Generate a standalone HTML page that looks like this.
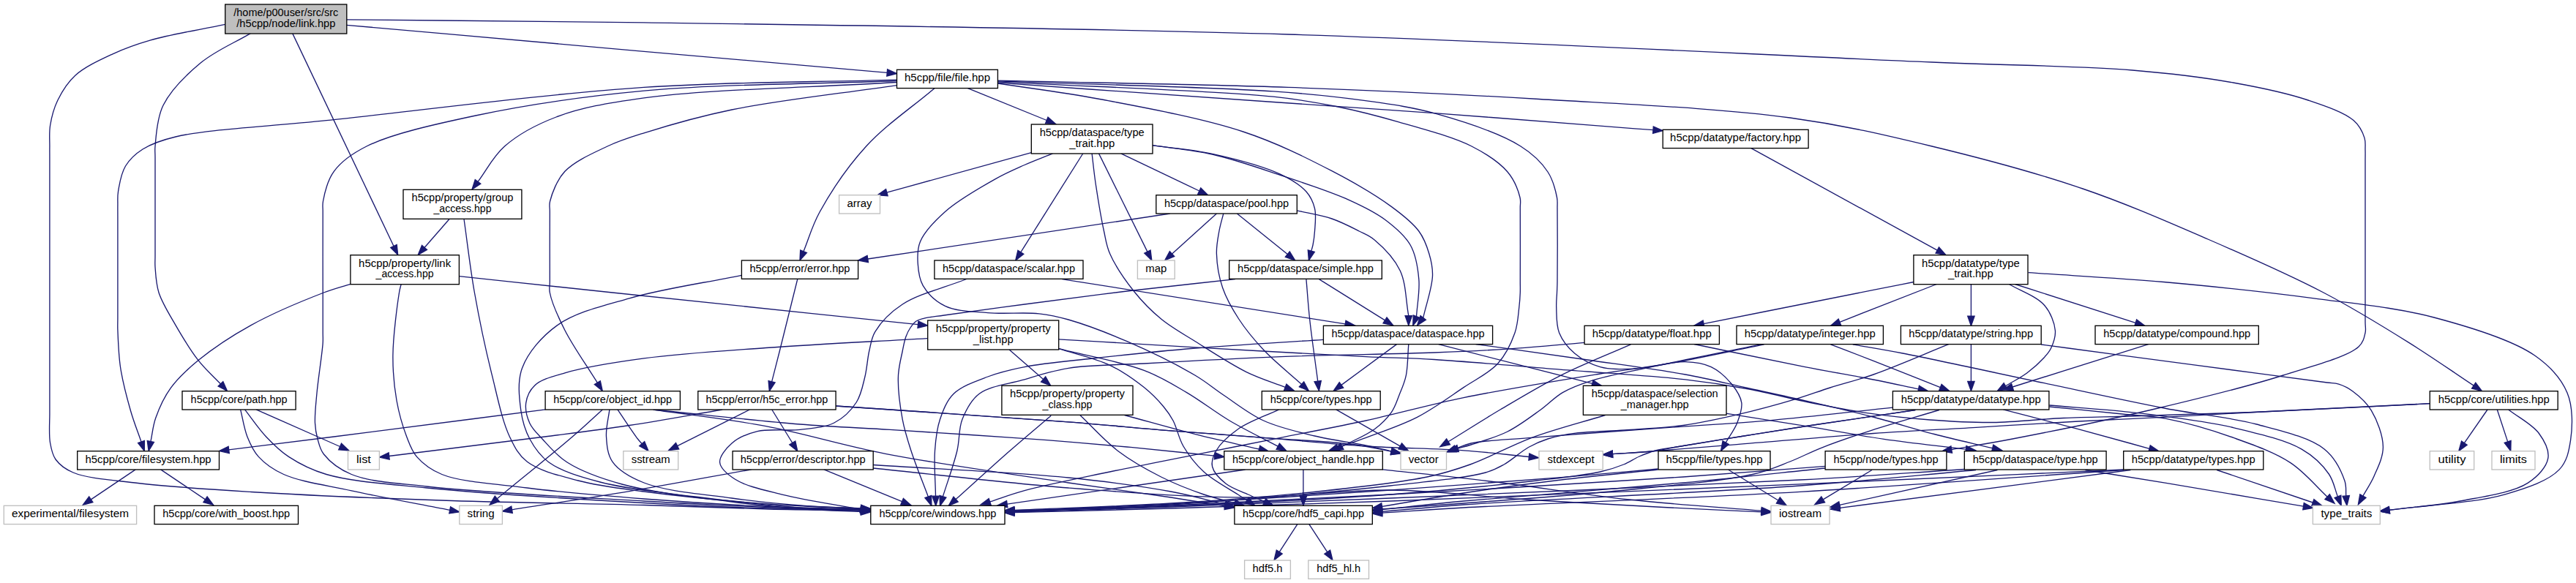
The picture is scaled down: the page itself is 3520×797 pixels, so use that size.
<!DOCTYPE html>
<html><head><meta charset="utf-8"><title>link.hpp include graph</title>
<style>html,body{margin:0;padding:0;background:#fff}svg{display:block}text{font-family:"Liberation Sans",sans-serif;font-size:14px;fill:#000;text-anchor:middle}</style></head><body>
<svg width="3520" height="797" viewBox="0 0 3520 797">
<rect width="3520" height="797" fill="#fff"/>
<g fill="none" stroke="#191970" stroke-width="1.33">
<path d="M307.7,33.3C273.7,40.5 233.8,46.9 205.8,54.9C185.4,60.8 170.9,66 154,73.8C136.6,81.9 116,91.2 103,103C92.1,112.9 84.7,125.1 78.9,137C73.5,148 70.4,160.4 68.6,171.5C67,181.3 68,192 67.9,200C67.8,205.8 67.9,207.2 67.9,215C67.9,242.3 67.9,341.6 67.9,400C67.9,452.6 67.9,526 67.9,550C67.9,557.6 67.9,558.8 67.9,565C68,575.1 66.6,593.6 68.5,605C70,613.8 71.3,621.4 76,628C81.3,635.3 88.7,641.2 100,646C119.6,654.4 155,656.4 188.7,660.5C233,665.8 284.2,668.9 343,672.5C421.4,677.3 527,681.5 617.5,684.5C706,687.4 802,688.3 880,690.5C942.8,692.2 997.5,694.8 1050,696C1095.3,697.1 1134.3,697.2 1176.5,697.8"/>
<path d="M342.4,45.6C319.7,59 294.4,69.3 274.4,85.8C254.6,102.2 233.2,123.3 223,144C214.2,161.7 213.2,187.2 212,200C211.4,206.5 212,207.5 212,215C212,237.5 212,327.5 212,350C212,357.5 211.6,359 212,365C212.7,374.3 213.2,388 217,400C221.6,414.3 231.4,429.7 240,444.6C249.2,460.5 260,478.6 271,492.6C280.6,504.9 291.2,514.1 301.4,524.8"/>
<path d="M399.7,45.6L538,336.5"/>
<path d="M473.8,34.3C609.2,46.3 751.4,59 880,70.3C996.3,80.5 1101.5,89.7 1212.2,99.3"/>
<path d="M1225.5,109.1C1110.3,112.5 1001.6,111.3 880,119.4C743.4,128.6 564,152.2 446,164.7C364.7,173.3 283.3,176.6 240,187C219.1,192 207,196.4 195,204C185.1,210.3 177.1,217.7 171.5,227C165.7,236.8 163,252.2 161.5,262C160.4,268.9 161,274.3 160.9,280C160.8,285.2 160.9,287.5 160.9,295C160.9,318 160.9,411.1 160.9,435C160.9,443.2 160.6,444.5 160.9,451.5C161.4,463.9 162,485.4 164.7,503C167.6,521.9 173.3,543.4 178.4,561.2C182.8,576.7 188.1,589.7 193,604"/>
<path d="M1225.5,110.5C1110.3,115.1 983.3,114.6 880,124.2C795.3,132.1 718,143.5 650,158C594.5,169.8 535,182.9 500.9,200C480.4,210.3 466.2,220.7 456.3,234.3C447.6,246.2 443.4,264.6 441.5,275C440.4,281.1 441.3,282.7 441.2,290C441,309.8 441.2,369.6 441.2,400C441.2,421.5 441.2,442.8 441.2,455C441.2,461.1 441.6,462.3 441.2,468.6C440.4,482.7 434.8,517.2 433,537.2C431.6,552.7 429.9,566.9 430.5,578.4C430.9,586.8 432,593 434,600C436,607.2 437.2,614.3 442.5,621C450.1,630.7 463.5,641.5 480.3,648.5C505.3,658.9 539.9,660.1 583.2,665C656.4,673.3 794.7,680 880,685C944.5,688.8 997.5,691.5 1050,693.5C1095.3,695.2 1134.3,695.6 1176.5,696.7"/>
<path d="M1225.5,112.5C1110.3,119.6 965.1,122 880,133.8C829.3,140.9 793.9,147 760,160C732.5,170.5 707.9,183.8 689.5,200C673.6,214 665.2,232.2 653,248.4"/>
<path d="M1225.5,116.6C1150.3,127.7 1063.1,137 1000,150C953.4,159.6 911.2,172 880,181.8C859.6,188.2 846.9,192 830,200C811,209 785.2,220.1 771.9,234.3C761,246 754.2,264.5 751.6,275C750.1,281 751.4,282.8 751.3,290C751.1,308 751.3,367 751.3,385C751.3,392.2 750.1,393.7 751.3,400C753.6,412.2 762.7,433.3 771.9,451.5C783.2,473.9 801.5,499.3 816.3,523.2"/>
<path d="M614,299.5L580,338.5"/>
<path d="M634,299.5C638.8,333 642.3,365.6 648.4,400C654.9,436.7 663.7,478.4 672.4,513.2C679.9,543.4 686.3,575.8 696.4,597C703.4,611.7 708.4,622 720.4,631.3C736.4,643.7 765,650.4 790,657C817.8,664.4 845.2,667.4 880,672C927.6,678.3 997.5,685.1 1050,689C1095.2,692.4 1134.3,693.2 1176.5,695.3"/>
<path d="M627.4,377.7C697.3,385.1 755.2,391.4 837,400C952.4,412.2 1115.3,429.1 1254.4,443.6"/>
<path d="M478.9,388.3C466.8,392.2 457.4,394.3 442.5,400C417.3,409.7 372.9,428.1 343,444.6C316.4,459.3 290.5,476.6 271,492.6C255.7,505.2 243.2,516.7 233.3,530.4C224.1,543.1 217.3,558.4 212.7,571.5C208.8,582.6 208.2,592.9 205.9,603.6"/>
<path d="M548.2,388.3C547.3,392.2 546.4,394.3 545.5,400C543,415.4 537.1,459.5 536.9,485.8C536.7,508 538.6,528.2 542,547.5C545.1,565.1 550.4,583.1 555.7,597C559.8,607.7 562.5,616.3 569.5,624.4C577.7,633.9 588,642.1 603.8,648.5C630.3,659.3 678.4,661.7 720.4,667C769.3,673.2 825.9,677.8 880,682C935.7,686.3 997.5,690.1 1050,692.5C1095.3,694.5 1134.3,694.9 1176.5,696.1"/>
<path d="M328.6,559.9C331.7,572.3 333.5,585.8 337.9,597C341.9,607.1 345.9,616.3 353.3,624.4C361.8,633.8 372.6,641.7 387.7,648.5C410.4,658.7 446.5,663.4 480.3,670.8C520.9,679.7 569.9,688.5 614.7,697.3"/>
<path d="M334.5,559.9C344.2,572.3 353.2,586 363.6,597C373.3,607.3 382.2,616.3 394.5,624.4C408.9,633.9 424.1,642.1 446,648.5C480.2,658.5 528.6,661.4 583.2,667C663.2,675.1 794.7,682.7 880,687.5C944.5,691.1 997.5,693.4 1050,695C1095.3,696.4 1134.3,696.5 1176.5,697.3"/>
<path d="M350,559.9C378,572.3 412.9,587.7 434,597C446.7,602.6 454.4,606 464.6,610.5"/>
<path d="M745.1,559.9C648.8,572.3 535.9,586.9 456.3,597C400.2,604.1 360.6,609 312.7,614.9"/>
<path d="M823.3,559.9C809.6,572.3 799.2,582.3 782.2,597C755.8,619.8 713.6,653.5 679.3,681.8"/>
<path d="M832.9,559.9C831.4,572.3 827.7,584.9 828.5,597C829.2,608.7 830.1,621.5 837,631.3C845.4,643.2 861,652.4 880,660C909.1,671.7 961.7,675.6 1000,681C1034.8,685.9 1068.9,689.2 1100,691.5C1127.2,693.5 1151,693.8 1176.5,694.9"/>
<path d="M843.9,559.9C853.1,573.3 865.5,592.4 871.4,600C873.9,603.2 875.3,604.4 877.2,606.6"/>
<path d="M185.2,641.9L124.3,682.9"/>
<path d="M219.6,641.9L280.5,682.9"/>
<path d="M473.8,26.8C609.2,28.2 718.8,28.6 880,30.9C1117.3,34.3 1466.7,38 1760,47C2053.4,56 2429.9,76.2 2640,85C2757.2,89.9 2838.4,89.8 2914,96C2967.8,100.4 3009.2,105.5 3051.5,113C3088.4,119.6 3124.5,127.1 3154,137C3177.7,145 3203.2,153.5 3216,164.6C3224.3,171.8 3228.6,181.1 3231,188.6C3232.8,194.3 3231.8,199.7 3232,205C3232.2,210.1 3232,212.1 3232,220C3232,250.4 3232,409.6 3232,440C3232,447.9 3233.2,449.8 3232,455C3230.6,461.1 3229.6,467.9 3223,474C3207.8,488 3159,500.5 3120,513C3070.5,528.8 3008.3,543.9 2949,558C2885.4,573.1 2802.2,590 2750,600C2716.4,606.5 2694.5,609.7 2666.7,614.5"/>
<path d="M1363.5,110.2C1495.7,113.3 1632.6,114.9 1760,119.4C1878.5,123.6 1988.7,128.6 2103,135.5C2217.4,142.4 2348.2,147.6 2446,161C2520.2,171.2 2574.7,184.3 2640,200C2707.9,216.4 2781.1,235.8 2846,258C2906.2,278.6 2961.4,303 3017,327C3071,350.4 3126.8,374.8 3175,400C3217.5,422.2 3256,446.1 3292,468.6C3323.8,488.4 3350.8,507.6 3380.2,527.1"/>
<path d="M1363.5,110.8C1489,115.5 1649.5,118.7 1740,124.9C1791.2,128.4 1821.6,131.5 1860,136.9C1895.8,141.9 1928.2,145.9 1963,155.7C2000.8,166.3 2051.3,183.2 2078,200C2095.2,210.8 2106.7,222.3 2115,235C2122.1,245.9 2125.7,260.7 2127.5,270C2128.6,275.9 2127.9,277.8 2128,285C2128.3,303.6 2128.3,366.4 2128,385C2127.9,392.2 2127.7,394.6 2127.5,400C2127.3,406.2 2126.4,412.4 2126.7,420C2127.1,430.1 2126.4,444.5 2130.6,455C2134.8,465.5 2142.7,475.4 2151.6,483C2161.1,491.1 2173.7,498 2186.6,501.6C2200.7,505.5 2216.2,504.7 2233.3,504C2254.3,503.1 2283.9,494 2303.2,494.6C2316.9,495 2327.7,496.6 2338.2,501.6C2348.8,506.7 2359.1,516.3 2366.2,525C2372.5,532.8 2378.6,541.7 2379.8,550.6C2381,559.4 2377.2,569.2 2373.8,578C2370.2,587.3 2363.4,596 2358.2,605.1"/>
<path d="M1363.5,111.8C1489,118.6 1659,123.8 1740,132.2C1778.9,136.3 1797.3,139.8 1825.8,145.5C1854.5,151.3 1882,158.3 1911.5,166.9C1943.6,176.2 1984.4,186.5 2011,200C2031.1,210.2 2048.8,221.8 2060,235C2069,245.6 2074.7,260.6 2077,270C2078.4,275.9 2077.2,277.8 2077.3,285C2077.5,303.6 2077.3,366.4 2077.3,385C2077.3,392.2 2077.5,394.6 2077.3,400C2077.1,406.2 2076.7,412.4 2075.8,420C2074.6,430.1 2074.1,443.2 2070,455C2065.2,468.8 2057.6,484.9 2046.7,497C2034.8,510.1 2016.9,518.3 2000,529.6C1980.6,542.6 1958.8,558.8 1936.5,570.3C1914.3,581.7 1886.4,590.8 1866.5,598.3C1851.8,603.8 1840.9,607.4 1828.1,612"/>
<path d="M1363.5,113.2C1489,122 1630.8,131.9 1740,139.5C1824,145.3 1889.2,149.5 1963,154.9C2035.8,160.2 2125.6,167.5 2180,171.7C2212.8,174.2 2232.6,175.7 2258.9,177.7"/>
<path d="M1363.5,114C1409,121 1450.4,125.6 1500,135C1560.2,146.4 1641.3,161 1698.6,180C1744.8,195.3 1784,215.1 1819.9,233.7C1850.3,249.5 1880.1,266.9 1901.5,282.6C1917,294 1930.1,304.1 1938.8,316C1946,325.7 1949.7,336.3 1952.8,346.7C1955.8,356.6 1957.9,365.3 1957.5,377C1957,393.2 1949,415.3 1944.7,434.5"/>
<path d="M1276.9,120.7C1245.8,147.1 1210.2,170.9 1183.6,200C1158.4,227.6 1134.8,263.1 1120,290C1109.3,309.5 1105.4,325.8 1098,343.7"/>
<path d="M1322.5,120.7L1430.3,164.5"/>
<path d="M1409.3,208.6L1211.8,263.2"/>
<path d="M1438.5,209.9C1425.7,215.1 1412.8,219.8 1400,225.5C1386.8,231.4 1375,236.3 1360.3,244.6C1340.2,255.9 1309.7,273.2 1291.7,289.2C1277.1,302.2 1263.1,316.9 1257.4,330.4C1253.2,340.4 1253.6,350.1 1254.2,360C1254.8,370.1 1255.9,381.1 1261.2,390.3C1267.3,400.9 1278.6,412 1291.5,418.3C1306.9,425.8 1329.4,425.8 1349.8,427.6C1372,429.6 1399.8,426.6 1419.8,428.8C1435.1,430.5 1444.5,432.6 1460,437C1482.3,443.4 1512.6,454.8 1540,466.7C1570.2,479.8 1609.4,499.1 1633.3,513.3C1649.3,522.8 1657.7,530.6 1671.8,540C1688.4,551 1706.5,565.8 1726.6,575C1747.9,584.8 1773,590.3 1796.5,596C1819.7,601.6 1847.3,604.8 1866.5,608.8C1880.1,611.6 1889.5,614.2 1901,616.9"/>
<path d="M1479.7,210L1394.8,344.8"/>
<path d="M1492.1,209.9C1493.7,223.3 1494.8,235 1497,250C1499.9,269.3 1504.6,298.2 1508.5,316C1511.2,328.2 1511.7,335.6 1516.6,346.7C1523.3,362.1 1537.2,382.7 1549.3,398C1560.7,412.3 1572.8,424.7 1586.6,436C1600.7,447.6 1616,455.9 1633.3,466.7C1654.1,479.8 1681.1,497.7 1703.2,508.6C1721.7,517.7 1738.5,522.5 1756.2,529.4"/>
<path d="M1501.5,209.9L1567.9,344.1"/>
<path d="M1531.8,209.9L1638.8,261"/>
<path d="M1574.5,198.7C1601.9,202.6 1628.6,204.2 1656.6,210.3C1687,217 1726.8,227.4 1749.9,238.3C1765.1,245.5 1777.1,253 1785,262C1791.1,269 1794.5,276.5 1796.5,285C1798.7,294.3 1797.1,306.9 1796.5,316C1796,323.1 1795,330 1794,335C1793.3,338.3 1792.6,340.4 1791.8,343.1"/>
<path d="M1574.5,198.7C1601.9,202.8 1628.6,204.7 1656.6,211C1687,217.9 1718.9,229.2 1749.9,239.5C1781.1,249.9 1817.4,261.7 1843.2,273.3C1862.5,282 1877.9,289.3 1892.2,300C1905.7,310.1 1919.4,321.3 1927.2,335C1934.9,348.5 1937.4,365.6 1938.8,381.6C1940.3,398.1 1936.6,415.6 1935.5,432.6"/>
<path d="M1598.7,292L1185.8,354"/>
<path d="M1662.4,292L1601.6,347.1"/>
<path d="M1671.8,292C1669.8,300 1667.4,307.5 1665.9,316C1664.2,325.6 1662.1,335.4 1662.4,346.7C1662.8,360.6 1665.6,378.5 1670.6,393.3C1675.7,408.2 1683.7,422.2 1692.7,436C1702.2,450.6 1713.5,464.3 1726.6,478.3C1741.5,494.2 1761.2,509.7 1778.5,525.3"/>
<path d="M1690.4,292L1759.3,347.6"/>
<path d="M1772,287.8C1788,291.5 1805.2,294 1819.9,299C1833.4,303.6 1846.6,310.6 1857.2,316C1865.3,320.2 1870.9,321.9 1878.2,328C1889.2,337.2 1905.4,353.5 1913.2,370C1921.5,387.7 1920.9,411.1 1924.8,431.7"/>
<path d="M1451.3,381.6L1838.2,442.9"/>
<path d="M1784.9,381.6C1786.5,399.7 1787.4,415.9 1789.6,436C1792.3,461.2 1797,492.7 1800.7,521.1"/>
<path d="M1802.4,381.6L1892.5,437.9"/>
<path d="M1908.5,470.6L1832.9,526.4"/>
<path d="M1924.8,470.6C1923.6,484.8 1923.9,500.9 1921.3,513.3C1919.2,523.4 1915.4,531.5 1912,540C1908.8,548.1 1906.6,556 1901.5,563.3C1895.7,571.6 1887.9,579.5 1878.2,586.7C1866.3,595.5 1848.6,602.4 1833.8,610.3"/>
<path d="M1965.8,470.7L2175.9,524.3"/>
<path d="M1379.1,478L1425.6,518.5"/>
<path d="M1446.7,476.7C1470,484.2 1496.2,489.6 1516.6,499.3C1534.4,507.8 1550.3,519.2 1563.3,529.6C1574,538.2 1583,547.6 1590,556C1595.5,562.6 1599,567.4 1603,575C1608.2,584.7 1610.5,598.8 1617,610C1624.1,622.2 1633.5,634.5 1645,645C1657.8,656.8 1681.1,669.1 1691.6,676C1697,679.6 1699.8,681.3 1703.8,684"/>
<path d="M1446.7,476.7C1485.6,486.6 1531.7,494.2 1563.3,506.3C1586.7,515.2 1602.4,525.4 1621.6,536.6C1641.4,548.2 1659.6,562.9 1680,575C1701.1,587.5 1724.2,598.5 1746.2,610.2"/>
<path d="M1536.5,567.5C1568.8,576.2 1601.8,585.8 1633.3,593.7C1663.1,601.2 1691.5,607.2 1720.6,614"/>
<path d="M1475.8,567.5C1493.3,584 1509.5,602.8 1528.3,617C1546.5,630.8 1566.8,642 1586.6,652C1605.7,661.6 1626.9,669.8 1645,676C1660,681.2 1673.1,683.8 1687.2,687.7"/>
<path d="M1825.7,559.8L1913.2,609.9"/>
<path d="M1747.6,559.8C1728.9,568.8 1706.7,576 1691.6,586.7C1679,595.6 1666.8,607 1661.3,617C1657.4,624.1 1655,631.2 1656.6,638C1658.5,646 1667.4,655.1 1675.2,661.3C1683.5,667.9 1696.2,671.7 1705.6,676C1713.6,679.7 1720.4,682.6 1727.8,685.9"/>
<path d="M892.7,560C959.6,566.7 1034.6,575.3 1093.3,580C1139.2,583.7 1176.2,584.9 1216,587.4C1253.8,589.8 1290.2,592.1 1326.5,594.5C1361.7,596.8 1395.5,599 1430.6,601.7C1466.6,604.5 1506.4,607.9 1540,611C1568.8,613.7 1598,616.8 1620,619C1635.5,620.6 1646.5,621.7 1659.7,623.1"/>
<path d="M1013.3,376.3C962.2,386.8 905,394.8 860,407.8C823.1,418.4 786.9,426.6 761.6,444.6C740.2,459.9 721.4,482.1 713.6,503C706.7,521.3 709.5,543.9 711.8,561.2C713.8,575.6 717.5,588.2 723.8,600C730.2,611.9 737.6,623 750,632C766.7,644.1 792.6,651.7 820,659C856.2,668.7 906.6,673.3 950,679C993.3,684.7 1039.9,689.7 1080,693C1114.5,695.8 1144.3,696.5 1176.5,698.3"/>
<path d="M1089.8,381.5C1081.6,414.3 1071.8,454.1 1065.3,480C1061,496.9 1058.2,507.9 1054.6,521.9"/>
<path d="M1267,462.6C1193.5,466.9 1114.9,470.6 1046.6,475.5C987.2,479.8 929.4,483.2 880,489.9C839.9,495.3 799.1,501.8 771.9,509.8C754.6,514.9 739.6,518.6 730.7,526.9C723.8,533.3 719.9,542.4 718.7,550.9C717.5,559.6 720.1,570.2 723.8,578.4C727.5,586.6 734,592.4 741,600C750.1,609.9 760.4,622.7 775,632C794.3,644.3 820.2,653.8 850,662C890.9,673.3 955,680.2 1000,686C1036.6,690.8 1068.9,693.8 1100,696C1127.2,698 1151,698.3 1176.5,699.4"/>
<path d="M1320.7,381.5C1291.5,393 1255.2,401.6 1233.2,416C1216.7,426.8 1203.3,441 1195.9,453.3C1190.5,462.3 1190,470.4 1187.7,480C1185.2,490.8 1184.8,503.4 1181.9,515C1179,526.8 1176.8,539.7 1170.2,550C1163.2,560.9 1152.1,571.8 1139.9,578C1126.8,584.7 1109.8,585.3 1093.3,587.3C1075,589.5 1051.6,585.6 1035,589.6C1021.5,592.9 1008.7,598.3 1000,606C992.2,612.9 982.9,623.8 983.6,632C984.3,640.3 994.5,648.8 1004.6,655.3C1019.6,665 1045.4,670.1 1070,676.3C1100.8,684.1 1140.5,689.5 1175.8,696.1"/>
<path d="M1688,381.6C1638.7,387.1 1588.6,392.2 1540,398C1492.7,403.7 1443.8,410.2 1400,416C1361.1,421.2 1314.6,427.4 1290,431C1277.6,432.8 1268.9,433.5 1262,435.3C1257.8,436.4 1254.9,437 1252,439C1248.9,441.1 1246.3,444.6 1244,448C1241.5,451.6 1239.6,455.6 1237.9,460.3C1235.8,466 1234.7,472.5 1233.2,480C1231.2,490 1227.8,501.8 1227.4,515C1226.8,531.9 1229.9,555.5 1233.2,573.3C1236.1,588.8 1239.9,600.5 1244.9,616C1251,635.1 1260.5,658 1268.3,679"/>
<path d="M1808.2,464.3C1749.9,468.2 1688.3,471.4 1633.3,476C1584,480.1 1535.2,485.3 1493.3,490C1459,493.8 1426.2,496.5 1400,501.6C1380.5,505.4 1365.9,508.9 1349.8,515C1333.7,521.1 1314.3,527.5 1303.2,538.3C1293.6,547.7 1288.8,560.7 1284.5,573.3C1280,586.5 1278.6,600.4 1277.5,616C1276.1,634.7 1278.2,657.4 1278.5,678.2"/>
<path d="M2165.3,468.3C2131.2,471.2 2097.2,474.6 2063,476.9C2028.7,479.2 2000.4,480.5 1960,482C1902.3,484.2 1817.9,485 1750,487.6C1685.9,490.1 1616.4,494 1563.3,497C1523.8,499.2 1490.1,498.5 1460,503.3C1436.1,507.1 1417.1,513.7 1396.5,519.7C1376.6,525.4 1352.1,527.8 1338.2,538.3C1326.7,547 1320,560.5 1314.9,573.3C1309.8,586.3 1311.5,600.5 1307.9,616C1303.4,635.1 1294.9,657.8 1288.4,678.8"/>
<path d="M1436.2,568.2C1417.5,584.1 1400.1,598.6 1380.2,616C1357.1,636.2 1330.8,660.4 1306.1,682.6"/>
<path d="M987.1,560C944.7,567.2 901.4,575.2 860,581.5C820.6,587.5 788.8,591.3 744.4,597C684.2,604.8 602.6,614.6 531.6,623.5"/>
<path d="M1024.4,560L925.6,609.7"/>
<path d="M1054.8,560L1082.8,605.5"/>
<path d="M1142.2,555C1248.1,562.3 1378,570.4 1460,576.8C1511.8,580.8 1543.3,584.3 1586.6,587.8C1632.1,591.5 1679.9,594.6 1726.6,598.3C1773.2,602 1820.4,607.1 1866.5,610C1911.5,612.9 1960,613 2000,615.8C2032.8,618.1 2059.6,621.6 2089.3,624.5"/>
<path d="M892.7,560C944,567.5 994.7,572.8 1046.6,582.6C1100.4,592.7 1149.5,608.5 1209.9,620.3C1284.2,634.8 1388.6,649.2 1460,660C1513.4,668 1560.8,674 1600,680C1628.5,684.3 1649.2,687.9 1673.8,691.9"/>
<path d="M1026.8,641.8C971.2,651.7 915.1,662.3 860,671.6C806,680.7 753,688.4 699.6,696.8"/>
<path d="M1125.9,641.8L1232.6,685.7"/>
<path d="M1193.1,635.5C1282.1,641.3 1385.4,645.5 1460,653C1514.2,658.5 1560.9,664.7 1600,672C1628.7,677.3 1649.4,683.6 1674,689.4"/>
<path d="M1193.1,640C1282.1,649 1373.3,660.3 1460,667C1542,673.4 1623.6,679.8 1700,680C1769.7,680.1 1834.5,669.4 1900,670C1963.3,670.6 2024.4,679.1 2086.6,683C2148.8,686.9 2216.2,690.5 2273.2,693.5C2321.5,696 2362.3,697.7 2406.9,699.9"/>
<path d="M1780.9,642L1780.9,678"/>
<path d="M1701.6,642L1376.2,689.1"/>
<path d="M1889.3,641.9C1939.5,647.4 1987.1,652.1 2040,658.5C2098.9,665.6 2164.9,676.4 2226.6,683C2287.1,689.5 2346.8,693.1 2406.9,698.2"/>
<path d="M1772.7,716.8L1748.2,754.6"/>
<path d="M1789,716.8L1813.7,754.6"/>
<path d="M2392.9,202.7L2647.2,342.1"/>
<path d="M2615,385.5C2596.7,389.1 2584.7,391.5 2560,396.4C2509.3,406.5 2405.3,427.2 2328,442.6"/>
<path d="M2646.3,388.5L2513.9,440.3"/>
<path d="M2693.4,388.5L2693.4,432.1"/>
<path d="M2745.4,388.5C2761.4,398 2782.7,405 2793.3,417C2802,426.9 2807.5,441.3 2808.4,452C2809.1,460.6 2805.6,469.5 2802.6,476C2800.2,481.2 2797.4,484.2 2793.3,488.7C2787.5,495.1 2778.6,503.3 2770,509.7C2761,516.4 2750.3,521.7 2740.5,527.7"/>
<path d="M2753.6,388.5L2918.2,441.3"/>
<path d="M2771.6,372.7C2833.2,377 2893.4,379.9 2956.5,385.5C3022.8,391.4 3095.7,399 3160,407.6C3218.3,415.4 3274,420.2 3326,434C3374.6,446.9 3431.7,463.9 3463.3,485.8C3484.8,500.7 3499.8,517.4 3508,537C3516,556.1 3515.4,583 3512.6,601.7C3510.3,617 3507.7,630.7 3497.2,641.9C3482.7,657.3 3453.2,667.1 3423.1,675.8C3381,688 3317.7,690.1 3265,697.2"/>
<path d="M2228.4,470.9C2196.1,485.2 2162,498.4 2131.5,513.8C2102.8,528.3 2076.1,544.6 2050,560C2025.4,574.6 2002.7,589.2 1979,603.8"/>
<path d="M2315,470.5C2365.5,480.9 2422,492.9 2466.5,501.6C2501.4,508.4 2532.1,513.5 2560,519C2582.7,523.5 2601,527.6 2621.6,531.9"/>
<path d="M2410.5,470.9C2367,479.6 2319.9,490 2280,497C2246.3,502.9 2223,505.1 2186.6,511C2135,519.4 2056.9,532 2000,543.6C1951.6,553.5 1909.6,565.6 1866.5,575C1826.4,583.7 1788.9,590.5 1750,598.3C1711.1,606.1 1672.2,613.8 1633.3,621.6C1594.4,629.4 1555.5,636.8 1516.6,645C1477.7,653.2 1430.1,662.5 1400,670.6C1380.6,675.9 1368.5,680.8 1352.7,685.9"/>
<path d="M2405.9,470.9C2356.1,481.1 2298.9,492.4 2256.6,501.6C2225.3,508.4 2197.1,513.3 2175,520.3C2159.2,525.3 2147.2,529.7 2135.3,536.6C2124.1,543.1 2116.6,551.9 2105.4,560C2092,569.6 2076,582 2060,590C2044.2,597.9 2022.5,604 2010,608C2002.6,610.4 1998.1,611.3 1992.1,613"/>
<path d="M2501.5,470.9C2521,478.4 2538.4,484.9 2560,493.3C2587.1,503.9 2620.9,517.5 2651.4,529.7"/>
<path d="M2531.8,470.9C2554.5,474.9 2571.5,477.5 2600,483C2648.1,492.3 2731.2,510.7 2793.3,523.7C2850.9,535.8 2908.5,548.6 2960,558.5C3004.2,567 3045.7,569.9 3083.5,580C3117,589 3155.7,597.6 3176.1,614C3190.8,625.8 3199.7,645 3203.9,657.3C3206.6,665.1 3205.2,671.1 3205.8,678"/>
<path d="M2693.4,470.7L2693.4,521.3"/>
<path d="M2662.6,470.7C2628.4,484.5 2589.7,501.5 2560,512C2537.7,519.8 2519.2,524.1 2500.7,530C2484.3,535.2 2472,540.1 2454.4,545.4C2431.3,552.3 2400.2,560.8 2373.8,566.9C2348.8,572.7 2325.2,578 2300,581.5C2274,585.1 2245.5,586.2 2220,588C2196.7,589.7 2172.1,589.7 2153,592.2C2138.5,594.1 2126.3,596.4 2115,600C2105.2,603.1 2097.7,606.4 2088.6,611.5C2077.8,617.6 2065.8,629 2055.2,635C2046.5,639.9 2042,642.6 2030,646C2003.8,653.4 1952.4,658.1 1900,664C1820.7,672.9 1691.6,684.3 1600,690C1522.7,694.8 1457.3,695.3 1386,698"/>
<path d="M2789.2,471C2826.1,475.9 2857.7,480.2 2900,485.8C2956.9,493.4 3048.3,505.5 3100,512.4C3132.7,516.7 3163.6,520.8 3180,523C3187.3,524 3190.4,523.5 3195.8,525.2C3202.1,527.2 3208.6,530.2 3215,535C3223.4,541.2 3233.7,550.1 3240.3,561.2C3248.3,574.5 3256.3,595.3 3256.4,611C3256.5,625 3249.1,639.2 3244,651C3239.6,661.2 3233.9,669 3228.9,678.1"/>
<path d="M2935.6,470.7L2750,529"/>
<path d="M2016.6,470.5C2066.3,477.5 2117.1,484.4 2165.8,491.5C2212.5,498.3 2263.1,504.7 2303,512C2334.2,517.7 2358,523.9 2385.8,530C2414.1,536.2 2443,542.3 2471.5,548.9C2500.1,555.5 2528.8,562.1 2557.3,569.5C2586,576.9 2615,586.2 2643.1,593.5C2670.1,600.5 2696.2,606.3 2722.7,612.7"/>
<path d="M1446.3,463.8C1508.6,467.5 1567.5,471.1 1633.3,474.8C1706.7,479 1806.2,484.7 1866.5,487.6C1904.7,489.4 1924.2,489.3 1960,491.5C2008.6,494.5 2074.3,500.6 2131.5,505.2C2188.7,509.8 2255.5,513.4 2303,518.9C2337,522.8 2361.6,526.7 2390,532C2417.7,537.1 2444.4,544.5 2471.5,550C2498.2,555.4 2524.3,560.6 2551.5,564.6C2579.5,568.7 2608.7,571.8 2637.3,574C2665.8,576.1 2693.6,577.8 2723,577.5C2754.3,577.2 2788.3,572.9 2820,571.5C2850.5,570.1 2875.2,570 2909.9,569C2957.6,567.6 3018.4,566 3080,563.5C3153.2,560.5 3240.2,555.6 3320.3,551.7"/>
<path d="M2358.3,565.2C2396,571.2 2434.7,577.2 2471.5,583.2C2506.6,588.9 2539.3,595.2 2574.4,600.3C2610.9,605.6 2649.1,609.5 2686.5,614.2"/>
<path d="M2193.6,567.5C2160.2,577.8 2125,586.6 2093.3,598.3C2063.6,609.3 2034.8,625.7 2008.9,635C1987.8,642.6 1974.4,646.9 1950,652C1911.7,660 1853.7,666.3 1800,672C1738.2,678.6 1667.8,683.8 1600,688C1529.9,692.3 1457.3,694.3 1386,697.4"/>
<path d="M2737.3,559.8C2771.5,568.7 2806.2,577.6 2839.9,586.6C2872.8,595.4 2904.7,604.4 2937,613.3"/>
<path d="M2800.3,554C2836.8,557.1 2880.4,560.3 2909.9,563.3C2929.8,565.3 2940.8,566.5 2960,569.3C2986.2,573.1 3022,577.4 3052.6,584.8C3083.7,592.3 3122.3,600.9 3145.2,614.1C3161.7,623.6 3174,635.9 3182.3,648C3189,657.8 3190.4,668.6 3194.4,678.9"/>
<path d="M2800.3,556C2833.5,559.3 2871,563 2900,566C2922.5,568.3 2938,568.1 2960,572.4C2987.7,577.8 3023.5,588.2 3052.6,598.7C3079.9,608.5 3107.8,618.2 3129.8,632.6C3149.6,645.6 3163.4,663.6 3180.2,679.2"/>
<path d="M2586.1,557.1C2530.7,562.9 2472,570 2420,574.6C2374.1,578.6 2338.1,580.3 2290,583.8C2230.2,588.1 2140.2,594.3 2088.6,598.6C2056.3,601.3 2027.7,602.1 2010,606C2000.6,608.1 1996,611 1989,613.5"/>
<path d="M2617.3,560.5C2568.7,567.7 2514.4,575.4 2471.5,582C2437.4,587.2 2409.5,591.8 2380,596.5C2352.4,600.9 2322.6,605.7 2300,609.5C2283.3,612.3 2271.8,615.2 2256.6,617C2239.8,619 2221.2,619.5 2203.5,620.7"/>
<path d="M2649.9,560.5C2619,569.8 2585.8,579.1 2557.3,588.3C2532.6,596.3 2508.7,604.4 2488.7,612.3C2472.7,618.6 2461,625.2 2446,631C2429.8,637.3 2417.6,643.3 2394.6,648.5C2350.9,658.5 2265.4,665.4 2200,672C2133.9,678.6 2057,683.7 2000,688C1957.5,691.2 1925.7,693.4 1888.6,696"/>
<path d="M3320.3,551.7C3240.2,555.6 3146.9,560 3080,563.5C3032.1,566 2997.2,568.2 2956.6,570.3C2917.2,572.3 2880.6,573.8 2839.9,576C2795.4,578.4 2746.6,581.6 2700,584.3C2653.3,587.1 2610,589 2560,592.5C2502.2,596.5 2428.2,603.2 2373.2,607.6C2329.8,611.1 2287.9,614.7 2256.6,617C2235.5,618.6 2221.2,619.5 2203.5,620.7"/>
<path d="M3399,560L3367.4,605.6"/>
<path d="M3412.3,560L3426.7,603.9"/>
<path d="M3427.7,560C3441.6,570.8 3460.4,580.1 3469.4,592.5C3476.9,602.7 3483.6,615.6 3481.8,626.4C3479.8,638.3 3468,651.4 3454,660.4C3433.4,673.7 3392.8,678.9 3361.4,685C3329.8,691.2 3297.1,693.2 3265,697.3"/>
<path d="M2361.9,642.2L2429.8,684"/>
<path d="M2265.5,641C2221.4,644.9 2183.6,648.6 2133.3,652.7C2066.5,658.1 1982.7,664.3 1900,670C1806.3,676.4 1691.6,684 1600,689C1522.7,693.2 1457.3,695.6 1386,698.9"/>
<path d="M2265.5,642C2221.4,646.7 2177.4,650.7 2133.3,656C2088.9,661.3 2042.4,667.6 2000,674C1961.1,679.8 1925.6,686.3 1888.5,692.4"/>
<path d="M2558,642.5L2491.2,682.9"/>
<path d="M2494.3,637.3C2429.5,642.2 2376.4,646.8 2300,652C2190.5,659.4 2023.8,669.2 1900,676C1792.8,681.9 1691.6,686.9 1600,691C1522.7,694.5 1457.3,696.6 1386,699.5"/>
<path d="M2494.3,640C2429.5,646.7 2371.8,653.3 2300,660C2210.9,668.3 2075.7,677.9 2000,685C1953.8,689.3 1925.7,692.7 1888.6,696.6"/>
<path d="M2729.4,642.5L2513.8,690.4"/>
<path d="M2684.4,641.5C2609.6,646.3 2551.6,651 2460,656C2315.3,663.9 2057.8,674.3 1900,681C1784.5,685.9 1691.6,689.7 1600,693C1522.7,695.8 1457.3,697.7 1386,700.1"/>
<path d="M2700,642.5C2620,649.7 2553,657.2 2460,664C2331.5,673.4 2101.1,682.9 2000,690C1950.2,693.5 1925.7,696.3 1888.6,699.4"/>
<path d="M2849.5,642.5C2886.3,648.5 2918.3,653.5 2960,660.4C3014.3,669.4 3085,681.6 3147.6,692.2"/>
<path d="M2911.4,642.5L2514,694.4"/>
<path d="M2901.6,642C2754.4,648.6 2615.9,655.1 2460,661.8C2284.4,669.4 2057.8,679.1 1900,685C1784.5,689.3 1691.6,692.3 1600,695C1522.7,697.3 1457.4,698.8 1386,700.6"/>
<path d="M2901.6,642.5C2754.4,652.4 2608.7,663.8 2460,672.3C2308.3,681 2101.1,688.4 2000,694C1950.2,696.8 1925.7,698.8 1888.6,701.1"/>
<path d="M3029.2,642.5L3160.4,687"/>
<path d="M1142.2,555C1248.1,562.3 1378,570.4 1460,576.8C1511.8,580.8 1543.3,584.3 1586.6,587.8C1632.1,591.5 1681.5,594.9 1726.6,598.3C1768.7,601.5 1816.4,603.4 1848.6,607.5C1869.9,610.2 1883.9,613.9 1901.5,617.1"/>
<path d="M2617.3,560.5C2568.7,567.7 2514.4,575.4 2471.5,582C2437.4,587.2 2409.5,591.8 2380,596.5C2352.4,600.9 2321.8,605.9 2300,609.5C2285,612 2272.8,613.1 2262,616C2253.6,618.2 2247.2,620.9 2240,624C2232.7,627.2 2226.6,631.7 2218.6,635C2209.1,638.9 2200,642 2186.6,645C2164.9,649.9 2134.9,652.9 2100,657C2047.1,663.2 1973.5,670.6 1900,676C1810.2,682.7 1691.6,688.2 1600,692C1522.7,695.2 1457.3,696.1 1386,698.1"/>
</g>
<g fill="#191970" stroke="#191970" stroke-width="1.33">
<polygon points="1176.4,702.5 1189.8,698 1176.5,693.1"/>
<polygon points="298,528 310.5,534.5 304.8,521.6"/>
<polygon points="533.8,338.5 543.7,348.5 542.2,334.5"/>
<polygon points="1211.8,104 1225.5,100.5 1212.6,94.7"/>
<polygon points="188.6,605.5 197.3,616.6 197.4,602.5"/>
<polygon points="1176.4,701.3 1189.8,697 1176.6,692"/>
<polygon points="649.3,245.5 645,259 656.8,251.2"/>
<polygon points="812.3,525.6 823.3,534.5 820.3,520.7"/>
<polygon points="576.5,335.4 571.2,348.5 583.5,341.5"/>
<polygon points="1176.3,700 1189.8,696 1176.7,690.7"/>
<polygon points="1254,448.3 1267.7,445 1254.9,439"/>
<polygon points="201.3,602.6 203.1,616.6 210.4,604.5"/>
<polygon points="1176.3,700.8 1189.8,696.5 1176.6,691.5"/>
<polygon points="613.8,701.9 627.8,699.9 615.6,692.7"/>
<polygon points="1176.4,701.9 1189.8,697.5 1176.6,692.6"/>
<polygon points="462.7,614.8 476.8,615.9 466.5,606.2"/>
<polygon points="312.1,610.3 299.5,616.6 313.3,619.6"/>
<polygon points="676.3,678.2 669,690.3 682.3,685.4"/>
<polygon points="1176.3,699.6 1189.8,695.5 1176.7,690.2"/>
<polygon points="873.7,609.7 886,616.6 880.7,603.5"/>
<polygon points="121.7,679 113.2,690.3 126.9,686.7"/>
<polygon points="277.9,686.7 291.6,690.3 283.1,679"/>
<polygon points="2665.9,609.9 2653.6,616.8 2667.5,619.1"/>
<polygon points="3377.6,531 3391.3,534.5 3382.8,523.2"/>
<polygon points="2354.1,602.7 2351.5,616.6 2362.2,607.4"/>
<polygon points="1826.5,607.6 1815.5,616.5 1829.6,616.4"/>
<polygon points="2258.6,182.3 2272.2,178.7 2259.3,173"/>
<polygon points="1941,431.6 1936.5,445 1948.4,437.3"/>
<polygon points="1093.7,341.9 1093,356 1102.4,345.4"/>
<polygon points="1428.5,168.8 1442.6,169.5 1432,160.2"/>
<polygon points="1210.6,258.6 1199,266.7 1213.1,267.7"/>
<polygon points="1900,621.5 1914,620 1902.1,612.4"/>
<polygon points="1390.9,342.3 1387.7,356.1 1398.8,347.3"/>
<polygon points="1754.5,533.8 1768.6,534.3 1757.9,525.1"/>
<polygon points="1563.7,346.1 1573.8,356 1572.1,342"/>
<polygon points="1636.8,265.3 1650.8,266.8 1640.8,256.8"/>
<polygon points="1787.3,341.9 1788.4,356 1796.3,344.3"/>
<polygon points="1931.2,430.9 1930.7,445 1939.9,434.3"/>
<polygon points="1185.1,349.4 1172.6,356 1186.5,358.6"/>
<polygon points="1598.4,343.6 1591.7,356 1604.7,350.5"/>
<polygon points="1775.4,528.8 1788.4,534.3 1781.7,521.9"/>
<polygon points="1756.4,351.3 1769.7,356 1762.3,344"/>
<polygon points="1920.1,431.7 1924.8,445 1929.5,431.7"/>
<polygon points="1837.5,447.5 1851.4,445 1839,438.3"/>
<polygon points="1796,521.7 1802.4,534.3 1805.3,520.5"/>
<polygon points="1890,441.9 1903.8,445 1895,434"/>
<polygon points="1830.2,522.6 1822.2,534.3 1835.7,530.1"/>
<polygon points="1831.6,606.1 1822,616.5 1836,614.4"/>
<polygon points="2174.7,528.8 2188.8,527.6 2177,519.8"/>
<polygon points="1422.6,522.1 1435.7,527.3 1428.7,515"/>
<polygon points="1701.3,687.9 1715,691.3 1706.4,680.1"/>
<polygon points="1744,614.4 1758,616.5 1748.4,606.1"/>
<polygon points="1719.6,618.5 1733.6,617 1721.7,609.4"/>
<polygon points="1685.9,692.2 1700,691.3 1688.4,683.2"/>
<polygon points="1910.9,613.9 1924.8,616.5 1915.5,605.8"/>
<polygon points="1725.9,690.1 1740,691.3 1729.7,681.6"/>
<polygon points="1659.3,627.8 1673,624.5 1660.2,618.5"/>
<polygon points="1176.2,702.9 1189.8,699 1176.7,693.6"/>
<polygon points="1050.1,520.7 1051.3,534.8 1059.1,523"/>
<polygon points="1176.3,704.1 1189.8,700 1176.7,694.7"/>
<polygon points="1174.9,700.6 1188.9,698.5 1176.7,691.5"/>
<polygon points="1263.9,680.6 1272.9,691.5 1272.6,677.4"/>
<polygon points="1273.8,678.2 1278.7,691.5 1283.2,678.1"/>
<polygon points="1284,677.4 1284.5,691.5 1292.9,680.2"/>
<polygon points="1303,679.1 1296.2,691.5 1309.2,686.1"/>
<polygon points="531.1,618.8 518.4,625.1 532.2,628.1"/>
<polygon points="923.5,605.5 913.7,615.7 927.7,613.9"/>
<polygon points="1078.8,607.9 1089.8,616.8 1086.8,603"/>
<polygon points="2088.9,629.2 2102.6,625.8 2089.8,619.9"/>
<polygon points="1673.1,696.5 1687,694 1674.6,687.3"/>
<polygon points="698.8,692.2 686.4,698.9 700.3,701.4"/>
<polygon points="1230.8,690 1244.9,690.8 1234.4,681.4"/>
<polygon points="1673,694 1687,692.5 1675.1,684.9"/>
<polygon points="2406.7,704.5 2420.2,700.5 2407.1,695.2"/>
<polygon points="1776.2,678 1780.9,691.3 1785.6,678"/>
<polygon points="1375.5,684.5 1363,691 1376.9,693.7"/>
<polygon points="2406.5,702.8 2420.2,699.3 2407.3,693.5"/>
<polygon points="1744.3,752.1 1741,765.8 1752.2,757.1"/>
<polygon points="1809.8,757.2 1821,765.8 1817.6,752.1"/>
<polygon points="2645,346.2 2658.9,348.5 2649.5,338"/>
<polygon points="2327.1,438 2314.9,445.2 2328.9,447.2"/>
<polygon points="2512.2,436 2501.5,445.2 2515.6,444.7"/>
<polygon points="2688.7,432.1 2693.4,445.4 2698.1,432.1"/>
<polygon points="2738.1,523.7 2729.1,534.6 2742.9,531.7"/>
<polygon points="2916.8,445.8 2930.9,445.4 2919.6,436.9"/>
<polygon points="3264.4,692.6 3251.8,699 3265.6,701.8"/>
<polygon points="1976.6,599.8 1967.7,610.8 1981.5,607.8"/>
<polygon points="2620.6,536.4 2634.6,534.6 2622.5,527.3"/>
<polygon points="1351.2,681.5 1340,690 1354.1,690.3"/>
<polygon points="1990.9,608.5 1979.3,616.6 1993.4,617.5"/>
<polygon points="2649.7,534 2663.8,534.6 2653.1,525.3"/>
<polygon points="3201.1,678.4 3207,691.3 3210.4,677.6"/>
<polygon points="2688.7,521.3 2693.4,534.6 2698.1,521.3"/>
<polygon points="1385.8,693.3 1372.7,698.5 1386.2,702.7"/>
<polygon points="3224.8,675.8 3222.4,689.7 3233,680.3"/>
<polygon points="2748.6,524.5 2737.3,533 2751.4,533.5"/>
<polygon points="2721.6,617.2 2735.7,615.8 2723.8,608.1"/>
<polygon points="2685.9,618.8 2699.7,615.8 2687,609.5"/>
<polygon points="1385.8,692.7 1372.7,698 1386.2,702.1"/>
<polygon points="2935.8,617.8 2949.9,616.8 2938.3,608.8"/>
<polygon points="3190.1,680.6 3199.3,691.3 3198.8,677.2"/>
<polygon points="3177,682.6 3190,688.2 3183.4,675.7"/>
<polygon points="1987.5,609.1 1976.5,618 1990.6,617.9"/>
<polygon points="2203.2,616 2190.2,621.6 2203.8,625.3"/>
<polygon points="1888.3,691.4 1875.3,697 1888.9,700.7"/>
<polygon points="2203.2,616 2190.2,621.6 2203.8,625.3"/>
<polygon points="3363.6,603 3359.8,616.6 3371.2,608.3"/>
<polygon points="3422.2,605.4 3430.8,616.6 3431.1,602.5"/>
<polygon points="3264.4,692.7 3251.8,699 3265.6,701.9"/>
<polygon points="2427.4,688 2441.2,691 2432.3,680"/>
<polygon points="1385.8,694.2 1372.7,699.5 1386.2,703.5"/>
<polygon points="1887.7,687.8 1875.3,694.6 1889.2,697"/>
<polygon points="2488.8,678.9 2479.8,689.8 2493.6,686.9"/>
<polygon points="1385.8,694.8 1372.7,700 1386.2,704.1"/>
<polygon points="1888.1,692 1875.3,698 1889,701.3"/>
<polygon points="2512.8,685.8 2500.8,693.3 2514.8,695"/>
<polygon points="1385.9,695.4 1372.7,700.5 1386.2,704.7"/>
<polygon points="1888.2,694.7 1875.3,700.5 1889,704"/>
<polygon points="3146.8,696.8 3160.7,694.4 3148.3,687.6"/>
<polygon points="2513.4,689.7 2500.8,696.1 2514.6,699"/>
<polygon points="1385.9,696 1372.7,701 1386.1,705.3"/>
<polygon points="1888.3,696.5 1875.3,702 1888.9,705.8"/>
<polygon points="3158.9,691.4 3173,691.3 3161.9,682.6"/>
<polygon points="1900.6,621.7 1914.6,619.5 1902.3,612.5"/>
<polygon points="1385.9,693.5 1372.7,698.5 1386.2,702.8"/>
</g>
<rect x="307.7" y="6" width="166.1" height="40" fill="#bfbfbf" stroke="#000" stroke-width="1.33"/><text x="390.8" y="22" textLength="143" lengthAdjust="spacingAndGlyphs">/home/p00user/src/src</text><text x="390.8" y="36.7" textLength="135" lengthAdjust="spacingAndGlyphs">/h5cpp/node/link.hpp</text>
<rect x="1225.5" y="95.3" width="137.9" height="25.3" fill="#fff" stroke="#000" stroke-width="1.33"/><text x="1294.5" y="111.3" textLength="117" lengthAdjust="spacingAndGlyphs">h5cpp/file/file.hpp</text>
<rect x="1409.3" y="170" width="165.7" height="40" fill="#fff" stroke="#000" stroke-width="1.33"/><text x="1492.2" y="186" textLength="143" lengthAdjust="spacingAndGlyphs">h5cpp/dataspace/type</text><text x="1492.2" y="200.7" textLength="62" lengthAdjust="spacingAndGlyphs">_trait.hpp</text>
<rect x="2272.2" y="177.3" width="198.9" height="25.3" fill="#fff" stroke="#000" stroke-width="1.33"/><text x="2371.6" y="193.3" textLength="179" lengthAdjust="spacingAndGlyphs">h5cpp/datatype/factory.hpp</text>
<rect x="1146.6" y="266.7" width="55.9" height="25.3" fill="#fff" stroke="#bfbfbf" stroke-width="1.33"/><text x="1174.5" y="282.7" textLength="34" lengthAdjust="spacingAndGlyphs">array</text>
<rect x="551" y="259.3" width="161.9" height="40" fill="#fff" stroke="#000" stroke-width="1.33"/><text x="632" y="275.3" textLength="139" lengthAdjust="spacingAndGlyphs">h5cpp/property/group</text><text x="632" y="290" textLength="79" lengthAdjust="spacingAndGlyphs">_access.hpp</text>
<rect x="1579.8" y="266.7" width="192.5" height="25.3" fill="#fff" stroke="#000" stroke-width="1.33"/><text x="1676" y="282.7" textLength="170" lengthAdjust="spacingAndGlyphs">h5cpp/dataspace/pool.hpp</text>
<rect x="478.9" y="348.7" width="148.5" height="40" fill="#fff" stroke="#000" stroke-width="1.33"/><text x="553.1" y="364.7" textLength="126" lengthAdjust="spacingAndGlyphs">h5cpp/property/link</text><text x="553.1" y="379.3" textLength="79" lengthAdjust="spacingAndGlyphs">_access.hpp</text>
<rect x="1013.4" y="356" width="159.2" height="25.3" fill="#fff" stroke="#000" stroke-width="1.33"/><text x="1093" y="372" textLength="137" lengthAdjust="spacingAndGlyphs">h5cpp/error/error.hpp</text>
<rect x="1276.9" y="356" width="203.1" height="25.3" fill="#fff" stroke="#000" stroke-width="1.33"/><text x="1378.5" y="372" textLength="181" lengthAdjust="spacingAndGlyphs">h5cpp/dataspace/scalar.hpp</text>
<rect x="1554.4" y="356" width="50.8" height="25.3" fill="#fff" stroke="#bfbfbf" stroke-width="1.33"/><text x="1579.8" y="372" textLength="29" lengthAdjust="spacingAndGlyphs">map</text>
<rect x="1679.7" y="356" width="208.6" height="25.3" fill="#fff" stroke="#000" stroke-width="1.33"/><text x="1784" y="372" textLength="186" lengthAdjust="spacingAndGlyphs">h5cpp/dataspace/simple.hpp</text>
<rect x="2614.9" y="348.7" width="156.1" height="40" fill="#fff" stroke="#000" stroke-width="1.33"/><text x="2692.9" y="364.7" textLength="134" lengthAdjust="spacingAndGlyphs">h5cpp/datatype/type</text><text x="2692.9" y="379.3" textLength="62" lengthAdjust="spacingAndGlyphs">_trait.hpp</text>
<rect x="1267.7" y="438" width="179" height="40" fill="#fff" stroke="#000" stroke-width="1.33"/><text x="1357.2" y="454" textLength="157" lengthAdjust="spacingAndGlyphs">h5cpp/property/property</text><text x="1357.2" y="468.7" textLength="55" lengthAdjust="spacingAndGlyphs">_list.hpp</text>
<rect x="1808.4" y="445.3" width="231.2" height="25.3" fill="#fff" stroke="#000" stroke-width="1.33"/><text x="1924" y="461.3" textLength="209" lengthAdjust="spacingAndGlyphs">h5cpp/dataspace/dataspace.hpp</text>
<rect x="2165.1" y="445.3" width="184.3" height="25.3" fill="#fff" stroke="#000" stroke-width="1.33"/><text x="2257.2" y="461.3" textLength="163" lengthAdjust="spacingAndGlyphs">h5cpp/datatype/float.hpp</text>
<rect x="2373" y="445.3" width="200.4" height="25.3" fill="#fff" stroke="#000" stroke-width="1.33"/><text x="2473.2" y="461.3" textLength="179" lengthAdjust="spacingAndGlyphs">h5cpp/datatype/integer.hpp</text>
<rect x="2597.4" y="445.3" width="191.8" height="25.3" fill="#fff" stroke="#000" stroke-width="1.33"/><text x="2693.3" y="461.3" textLength="170" lengthAdjust="spacingAndGlyphs">h5cpp/datatype/string.hpp</text>
<rect x="2863" y="445.3" width="223.3" height="25.3" fill="#fff" stroke="#000" stroke-width="1.33"/><text x="2974.7" y="461.3" textLength="201" lengthAdjust="spacingAndGlyphs">h5cpp/datatype/compound.hpp</text>
<rect x="249" y="534.7" width="155.1" height="25.3" fill="#fff" stroke="#000" stroke-width="1.33"/><text x="326.6" y="550.7" textLength="132" lengthAdjust="spacingAndGlyphs">h5cpp/core/path.hpp</text>
<rect x="745.1" y="534.7" width="184.3" height="25.3" fill="#fff" stroke="#000" stroke-width="1.33"/><text x="837.2" y="550.7" textLength="162" lengthAdjust="spacingAndGlyphs">h5cpp/core/object_id.hpp</text>
<rect x="953.8" y="534.7" width="188.3" height="25.3" fill="#fff" stroke="#000" stroke-width="1.33"/><text x="1047.9" y="550.7" textLength="167" lengthAdjust="spacingAndGlyphs">h5cpp/error/h5c_error.hpp</text>
<rect x="1368.9" y="527.3" width="179.1" height="40" fill="#fff" stroke="#000" stroke-width="1.33"/><text x="1458.5" y="543.3" textLength="157" lengthAdjust="spacingAndGlyphs">h5cpp/property/property</text><text x="1458.5" y="558" textLength="68" lengthAdjust="spacingAndGlyphs">_class.hpp</text>
<rect x="1724.3" y="534.7" width="161.9" height="25.3" fill="#fff" stroke="#000" stroke-width="1.33"/><text x="1805.2" y="550.7" textLength="139" lengthAdjust="spacingAndGlyphs">h5cpp/core/types.hpp</text>
<rect x="2163.4" y="527.3" width="195.6" height="40" fill="#fff" stroke="#000" stroke-width="1.33"/><text x="2261.2" y="543.3" textLength="173" lengthAdjust="spacingAndGlyphs">h5cpp/dataspace/selection</text><text x="2261.2" y="558" textLength="93" lengthAdjust="spacingAndGlyphs">_manager.hpp</text>
<rect x="2586.4" y="534.7" width="213.5" height="25.3" fill="#fff" stroke="#000" stroke-width="1.33"/><text x="2693.2" y="550.7" textLength="191" lengthAdjust="spacingAndGlyphs">h5cpp/datatype/datatype.hpp</text>
<rect x="3320.3" y="534.7" width="174.9" height="25.3" fill="#fff" stroke="#000" stroke-width="1.33"/><text x="3407.8" y="550.7" textLength="152" lengthAdjust="spacingAndGlyphs">h5cpp/core/utilities.hpp</text>
<rect x="105.7" y="616.7" width="193.8" height="25.3" fill="#fff" stroke="#000" stroke-width="1.33"/><text x="202.6" y="632.7" textLength="172" lengthAdjust="spacingAndGlyphs">h5cpp/core/filesystem.hpp</text>
<rect x="475.5" y="616.7" width="42.9" height="25.3" fill="#fff" stroke="#bfbfbf" stroke-width="1.33"/><text x="496.9" y="632.7" textLength="20" lengthAdjust="spacingAndGlyphs">list</text>
<rect x="851.8" y="616.7" width="74.9" height="25.3" fill="#fff" stroke="#bfbfbf" stroke-width="1.33"/><text x="889.2" y="632.7" textLength="53" lengthAdjust="spacingAndGlyphs">sstream</text>
<rect x="1001.1" y="616.7" width="192.1" height="25.3" fill="#fff" stroke="#000" stroke-width="1.33"/><text x="1097.2" y="632.7" textLength="171" lengthAdjust="spacingAndGlyphs">h5cpp/error/descriptor.hpp</text>
<rect x="1672.8" y="616.7" width="216.5" height="25.3" fill="#fff" stroke="#000" stroke-width="1.33"/><text x="1781" y="632.7" textLength="194" lengthAdjust="spacingAndGlyphs">h5cpp/core/object_handle.hpp</text>
<rect x="1914" y="616.7" width="62.5" height="25.3" fill="#fff" stroke="#bfbfbf" stroke-width="1.33"/><text x="1945.2" y="632.7" textLength="41" lengthAdjust="spacingAndGlyphs">vector</text>
<rect x="2103" y="616.7" width="87.2" height="25.3" fill="#fff" stroke="#bfbfbf" stroke-width="1.33"/><text x="2146.6" y="632.7" textLength="64" lengthAdjust="spacingAndGlyphs">stdexcept</text>
<rect x="2266" y="616.7" width="153" height="25.3" fill="#fff" stroke="#000" stroke-width="1.33"/><text x="2342.5" y="632.7" textLength="132" lengthAdjust="spacingAndGlyphs">h5cpp/file/types.hpp</text>
<rect x="2494.1" y="616.7" width="165.8" height="25.3" fill="#fff" stroke="#000" stroke-width="1.33"/><text x="2577" y="632.7" textLength="143" lengthAdjust="spacingAndGlyphs">h5cpp/node/types.hpp</text>
<rect x="2684.3" y="616.7" width="193.8" height="25.3" fill="#fff" stroke="#000" stroke-width="1.33"/><text x="2781.2" y="632.7" textLength="171" lengthAdjust="spacingAndGlyphs">h5cpp/dataspace/type.hpp</text>
<rect x="2901.7" y="616.7" width="191.1" height="25.3" fill="#fff" stroke="#000" stroke-width="1.33"/><text x="2997.2" y="632.7" textLength="169" lengthAdjust="spacingAndGlyphs">h5cpp/datatype/types.hpp</text>
<rect x="3320.3" y="616.7" width="60.4" height="25.3" fill="#fff" stroke="#bfbfbf" stroke-width="1.33"/><text x="3350.5" y="632.7" textLength="38" lengthAdjust="spacingAndGlyphs">utility</text>
<rect x="3405" y="616.7" width="59" height="25.3" fill="#fff" stroke="#bfbfbf" stroke-width="1.33"/><text x="3434.5" y="632.7" textLength="37" lengthAdjust="spacingAndGlyphs">limits</text>
<rect x="5.3" y="691.3" width="181.3" height="25.3" fill="#fff" stroke="#bfbfbf" stroke-width="1.33"/><text x="96" y="707.3" textLength="160" lengthAdjust="spacingAndGlyphs">experimental/filesystem</text>
<rect x="211" y="691.3" width="196.5" height="25.3" fill="#fff" stroke="#000" stroke-width="1.33"/><text x="309.2" y="707.3" textLength="174" lengthAdjust="spacingAndGlyphs">h5cpp/core/with_boost.hpp</text>
<rect x="627.8" y="691.3" width="58.6" height="25.3" fill="#fff" stroke="#bfbfbf" stroke-width="1.33"/><text x="657.1" y="707.3" textLength="37" lengthAdjust="spacingAndGlyphs">string</text>
<rect x="1189.8" y="691.3" width="183.2" height="25.3" fill="#fff" stroke="#000" stroke-width="1.33"/><text x="1281.4" y="707.3" textLength="160" lengthAdjust="spacingAndGlyphs">h5cpp/core/windows.hpp</text>
<rect x="1686.9" y="691.3" width="188.4" height="25.3" fill="#fff" stroke="#000" stroke-width="1.33"/><text x="1781.1" y="707.3" textLength="166" lengthAdjust="spacingAndGlyphs">h5cpp/core/hdf5_capi.hpp</text>
<rect x="2420" y="691.3" width="80" height="25.3" fill="#fff" stroke="#bfbfbf" stroke-width="1.33"/><text x="2460" y="707.3" textLength="58" lengthAdjust="spacingAndGlyphs">iostream</text>
<rect x="3160.4" y="691.3" width="91.9" height="25.3" fill="#fff" stroke="#bfbfbf" stroke-width="1.33"/><text x="3206.4" y="707.3" textLength="70" lengthAdjust="spacingAndGlyphs">type_traits</text>
<rect x="1700.6" y="766" width="62.8" height="25.3" fill="#fff" stroke="#bfbfbf" stroke-width="1.33"/><text x="1732" y="782" textLength="41" lengthAdjust="spacingAndGlyphs">hdf5.h</text>
<rect x="1787.8" y="766" width="82.7" height="25.3" fill="#fff" stroke="#bfbfbf" stroke-width="1.33"/><text x="1829.2" y="782" textLength="60" lengthAdjust="spacingAndGlyphs">hdf5_hl.h</text>
</svg>
</body></html>
